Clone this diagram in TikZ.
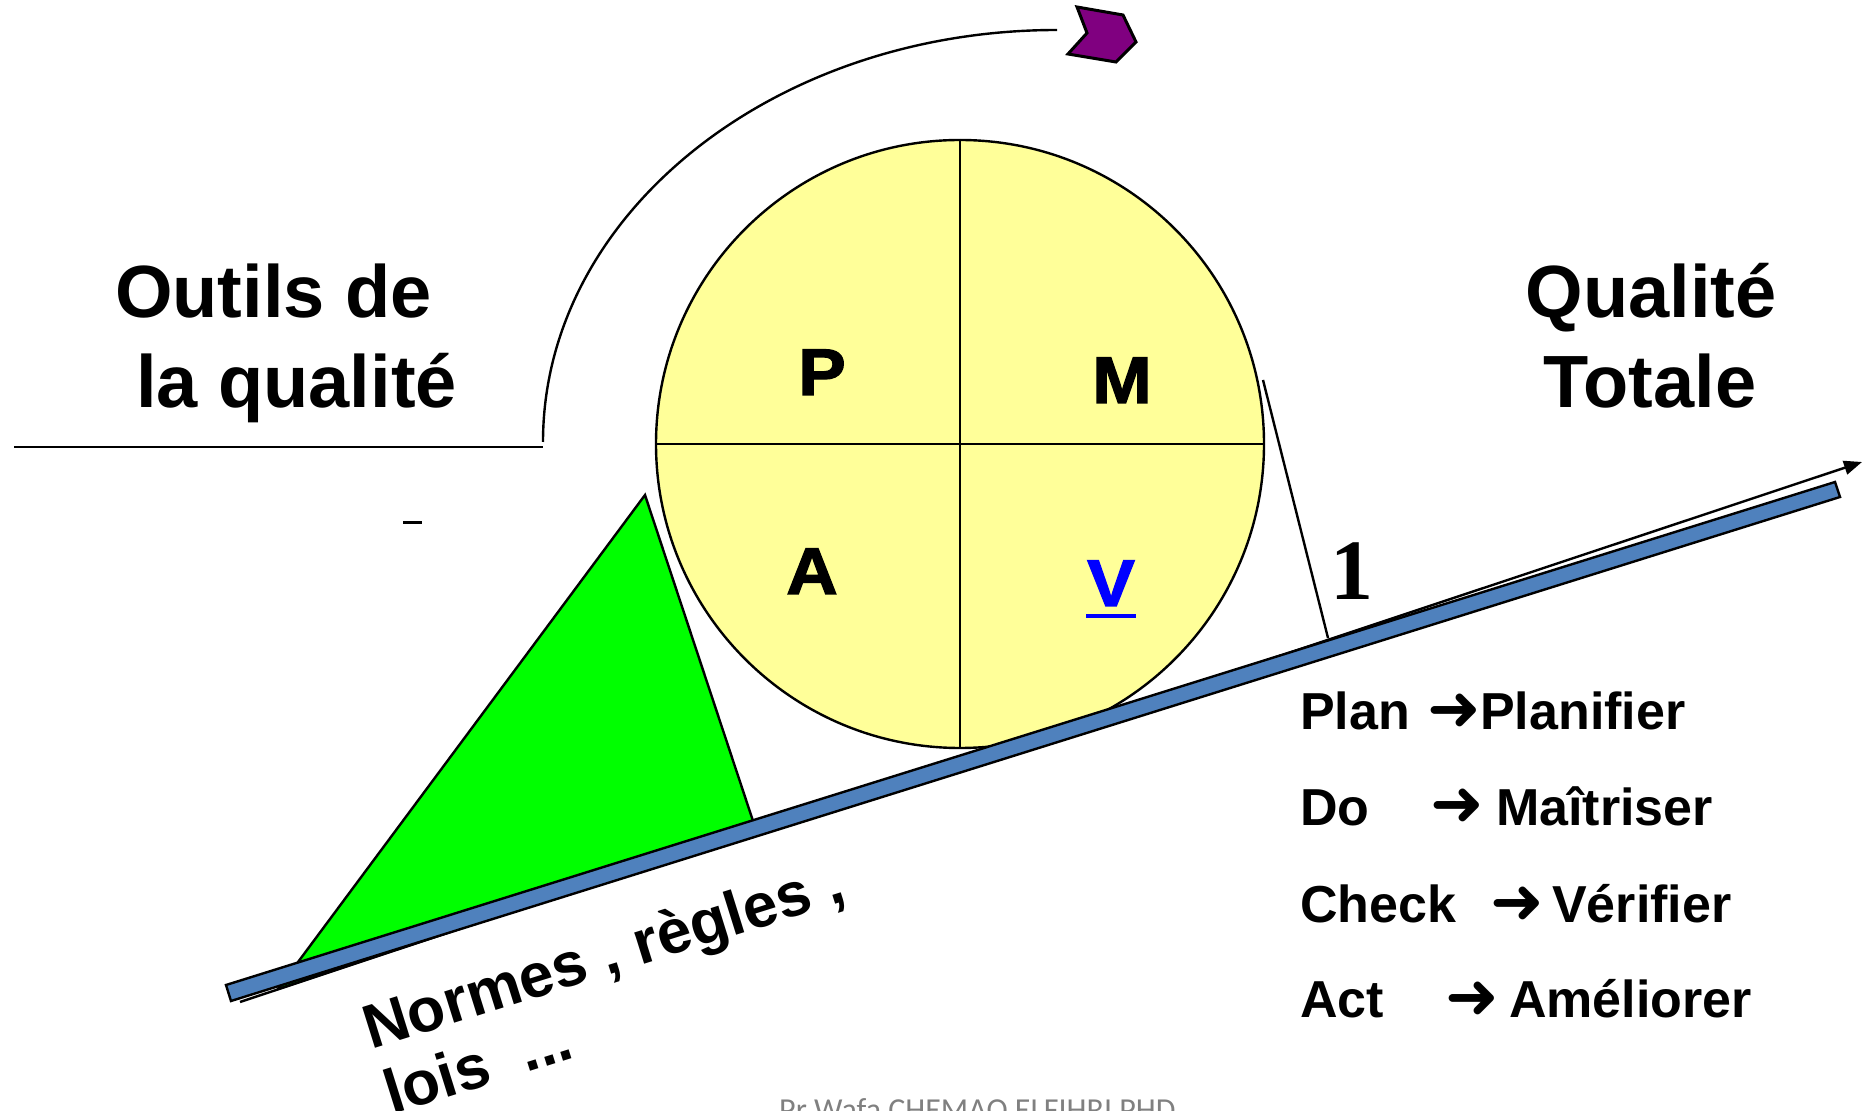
\documentclass[tikz,border=0pt]{standalone}
\usepackage{fontspec}
\setmainfont{Liberation Sans}
\newfontfamily\serifbold{Liberation Serif}
\newfontfamily\arrowfont{DejaVu Sans}
\newfontfamily\footfont{Carlito}
\newfontface\blackfont[FakeBold=2,FakeStretch=1.08]{Liberation Sans Bold}
\usetikzlibrary{arrows.meta}

\definecolor{cycleyellow}{RGB}{255,255,153}
\definecolor{slopeblue}{RGB}{79,129,189}
\definecolor{wedgegreen}{RGB}{0,255,0}
\definecolor{chevpurple}{RGB}{128,0,128}
\definecolor{vblue}{RGB}{0,0,255}
\definecolor{footgray}{RGB}{128,128,128}

\tikzset{every picture/.style={line width=1.2pt}}
\tikzset{
  titletext/.style={inner sep=0pt, font=\fontsize{37}{44}\selectfont\bfseries},
  lettertext/.style={inner sep=0pt, anchor=base, font=\fontsize{33}{40}\selectfont\blackfont},
  listtext/.style={inner sep=0pt, anchor=base west, font=\fontsize{26}{31}\selectfont\bfseries},
  listarrow/.style={inner sep=0pt, anchor=base west, font=\fontsize{32}{36}\selectfont\arrowfont},
  slopetext/.style={inner sep=0pt, anchor=base west, rotate=17.4, font=\fontsize{31}{36}\selectfont\bfseries},
}

\begin{document}
\begin{tikzpicture}[x=0.5pt,y=0.5pt,yscale=-1,xscale=1]
	\useasboundingbox (0,0) rectangle (1863,1111);
	
	%Straight Lines (slope with arrow)
	\coordinate (slopeS) at (240,1002);
	\coordinate (slopeE) at (1862,462);
	\draw [-{Triangle[length=9pt,width=7pt]}] (slopeS) -- (slopeE) ;
	
	%Shape: Triangle
	\draw  [fill=wedgegreen] (645,495) -- (278,989) -- (756,830) -- cycle ;
	
	%Shape: Circle
	\node [circle, draw, fill=cycleyellow, minimum size=304pt, inner sep=0pt] (cycle) at (960,444) {};
	%Straight Lines
	\draw    (cycle.north) -- (cycle.south) ;
	%Straight Lines
	\draw    (cycle.west) -- (cycle.east) ;
	
	%Shape: Rectangle (rotated bar)
	\draw  [fill=slopeblue] (226,985) -- (1835,482) -- (1840,497) -- (231,1001) -- cycle ;
	
	%Straight Lines
	\draw    (14,447) -- (543,447) ;
	%Curve Lines
	\draw    (543,442) arc [start angle=180, end angle=270, x radius=514, y radius=412] ;
	%Shape: Chevron
	\draw  [fill=chevpurple, line width=1.5pt] (1077,7) -- (1123,15) -- (1136,42) -- (1116,62) -- (1068,54) -- (1087,33) -- cycle ;
	
	%Straight Lines
	\coordinate (markA) at (1263,380);
	\coordinate (markB) at (1328,638);
	\draw    (markA) -- (markB) ;
	%Straight Lines
	\draw  [line width=1.5pt]  (403,523) -- (422,523) ;
	
	% Text Node
	\node [titletext, anchor=base west] (outils1) at (114,318) {Outils de};
	% Text Node
	\node [titletext, anchor=base west] (outils2) at (135,408) {la qualité};
	% Text Node
	\node [titletext, anchor=base] (qualite1) at (1651,318) {Qualité};
	% Text Node
	\node [titletext, anchor=base] (qualite2) at (1650,408) {Totale};
	
	% Text Node
	\node [lettertext] (pl) at (822,395) {P};
	% Text Node
	\node [lettertext] (ml) at (1122,403) {M};
	% Text Node
	\node [lettertext] (al) at (812,594) {A};
	% Text Node
	\node [lettertext, text=vblue] (vl) at (1111,606) {V};
	\draw  [vblue, line width=2pt]  (1086,616) -- (1136,616) ;
	
	% Text Node
	\node [inner sep=0pt, anchor=base, font=\fontsize{43}{50}\selectfont\serifbold\bfseries] (one) at (1352,600) {1};
	
	% Text Node
	\node [listtext] (plan) at (1299,730) {Plan};
	\node [listarrow] (planarr) at (1426,731) {➜};
	\node [listtext] (planfr) at (1479,730) {Planifier};
	% Text Node
	\node [listtext] (do) at (1299,825) {Do};
	\node [listarrow] (doarr) at (1429,826) {➜};
	\node [listtext] (dofr) at (1495,825) {Maîtriser};
	% Text Node
	\node [listtext] (check) at (1299,922) {Check};
	\node [listarrow] (checkarr) at (1489,923) {➜};
	\node [listtext] (checkfr) at (1551,922) {Vérifier};
	% Text Node
	\node [listtext] (act) at (1299,1017) {Act};
	\node [listarrow] (actarr) at (1444,1018) {➜};
	\node [listtext] (actfr) at (1508,1017) {Améliorer};
	
	% Text Node
	\node [slopetext] (normes) at (370,1050) {Normes , règles ,};
	% Text Node
	\node [slopetext] (lois) at (391,1115) {lois\ \ ...};
	
	% Text Node
	\node [inner sep=0pt, anchor=base west, text=footgray, font=\footfont\fontsize{16}{19}\selectfont] (auteur) at (778,1120) {Pr Wafa CHEMAO ELFIHRI PHD};
	
\end{tikzpicture}
\end{document}
